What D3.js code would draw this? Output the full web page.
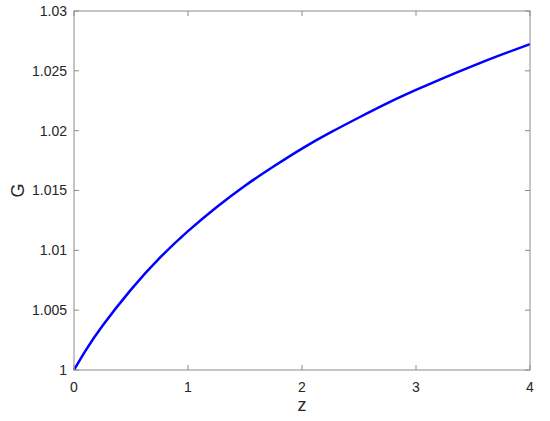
<!DOCTYPE html>
<html>
  <head>
    <title>G vs z</title>
    <script src="https://d3js.org/d3.v7.min.js"></script>
    <style>
      body { margin: 0; background: #fff; }
      text { font-family: "Liberation Sans", Arial, sans-serif; fill: #262626; }
    </style>
  </head>
  <body>
    <svg width="550" height="421"></svg>
    <script>
      // values
      const zValues = [0, 0.1, 0.25, 0.5, 0.75, 1, 1.25, 1.5, 1.75, 2, 2.25, 2.5, 2.75, 3, 3.25, 3.5, 3.75, 4];
      const gValues = [1, 1.0016, 1.0037, 1.00672, 1.00935, 1.0116, 1.0136, 1.0154, 1.0170, 1.0185,
                       1.01985, 1.0211, 1.0223, 1.0234, 1.02444, 1.02542, 1.02635, 1.02723];
      const xTicks = [0, 1, 2, 3, 4];
      const yTicks = [1, 1.005, 1.01, 1.015, 1.02, 1.025, 1.03];
      const yTickLabels = ["1", "1.005", "1.01", "1.015", "1.02", "1.025", "1.03"];

      const svg = d3.select("svg");
      const margin = {top: 11, right: 20, bottom: 51, left: 74};
      const width = +svg.attr("width") - margin.left - margin.right;
      const height = +svg.attr("height") - margin.top - margin.bottom;
      const axisColor = "#8c8c8c";
      const tickLen = 5;

      const x = d3.scaleLinear().domain([0, 4]).range([0, width]);
      const y = d3.scaleLinear().domain([1, 1.03]).range([height, 0]);

      const g = svg.append("g").attr("transform", `translate(${margin.left},${margin.top})`);

      const data = zValues.map((z, i) => ({z, g: gValues[i]}));

      // curve
      g.append("path")
        .datum(data)
        .attr("fill", "none")
        .attr("stroke", "#0000ff")
        .attr("stroke-width", 2.5)
        .attr("d", d3.line().x(d => x(d.z)).y(d => y(d.g)).curve(d3.curveNatural));

      // ticks, pointing inward, on all four sides
      const ticks = g.append("g").attr("stroke", axisColor).attr("stroke-width", 1);
      xTicks.forEach(t => {
        ticks.append("line").attr("x1", x(t)).attr("x2", x(t)).attr("y1", height).attr("y2", height - tickLen);
        ticks.append("line").attr("x1", x(t)).attr("x2", x(t)).attr("y1", 0).attr("y2", tickLen);
      });
      yTicks.forEach(t => {
        ticks.append("line").attr("x1", 0).attr("x2", tickLen).attr("y1", y(t)).attr("y2", y(t));
        ticks.append("line").attr("x1", width).attr("x2", width - tickLen).attr("y1", y(t)).attr("y2", y(t));
      });

      // box
      g.append("rect")
        .attr("x", 0).attr("y", 0)
        .attr("width", width).attr("height", height)
        .attr("fill", "none")
        .attr("stroke", axisColor)
        .attr("stroke-width", 1);

      // tick labels
      g.selectAll(".xlab").data(xTicks).enter().append("text")
        .attr("x", d => x(d))
        .attr("y", height + 22)
        .attr("text-anchor", "middle")
        .style("font-size", "14px")
        .text(d => d);

      g.selectAll(".ylab").data(yTicks).enter().append("text")
        .attr("x", -7)
        .attr("y", d => y(d))
        .attr("dy", "0.35em")
        .attr("text-anchor", "end")
        .style("font-size", "14px")
        .text((d, i) => yTickLabels[i]);

      // axis labels
      g.append("text")
        .attr("x", width / 2)
        .attr("y", height + 41)
        .attr("text-anchor", "middle")
        .style("font-size", "18px")
        .text("z");

      g.append("text")
        .attr("transform", `translate(${24 - margin.left},${height / 2}) rotate(-90)`)
        .attr("text-anchor", "middle")
        .style("font-size", "18px")
        .text("G");
    </script>
  </body>
</html>
